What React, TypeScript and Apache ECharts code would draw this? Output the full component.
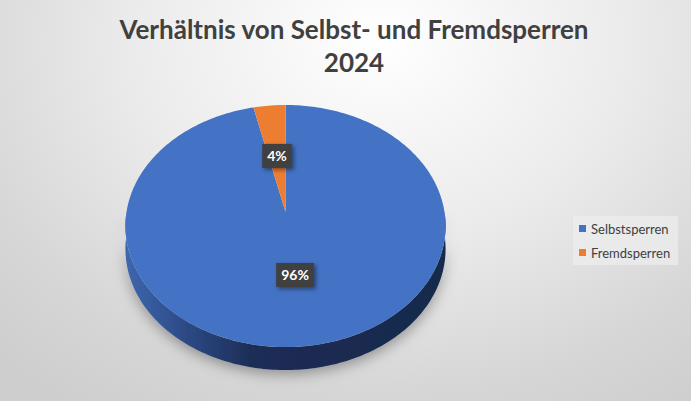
import React, { useEffect, useRef } from "react";
import * as echarts from "echarts";

const TITLE_LINES = ["Verhältnis von Selbst- und Fremdsperren", "2024"];
const categories = ["Selbstsperren", "Fremdsperren"];
const values = [96.4, 3.6];

const TOP_COLORS = ["#4472c4", "#ed7d31"];

// projection of the tilted disc (perspective)
const CX = 285.5;
const CY = 212;
const SX = 159;
const SY = 119.4;
const K = 0.1157;
const DEPTH = 23;

function proj(theta: number, r: number): [number, number] {
  const X = r * Math.sin(theta);
  const Z = r * Math.cos(theta);
  const d = 1 + K * Z;
  return [CX + (SX * X) / d, CY - (SY * Z) / d];
}

function arcPoints(a: number, b: number, r: number): [number, number][] {
  const pts: [number, number][] = [];
  const n = Math.max(2, Math.ceil(Math.abs(b - a) / (Math.PI / 180)));
  for (let i = 0; i <= n; i++) {
    const t = a + ((b - a) * i) / n;
    pts.push(proj(t, r));
  }
  return pts;
}

const total = values.reduce((s, v) => s + v, 0);

function makeRenderItem(si: number) {
  return (params: any, api: any) => {
    const v = api.value(0);
    let before = 0;
    for (let i = 0; i < si; i++) before += values[i];
    const start = (before / total) * Math.PI * 2;
    const end = start + (v / total) * Math.PI * 2;
    const children: any[] = [];

    // side wall (near half only)
    const a = Math.max(start, Math.PI / 2);
    const b = Math.min(end, (Math.PI * 3) / 2);
    if (b > a) {
      const rim = arcPoints(a, b, 1);
      const low = rim.map(([x, y]) => [x, y + DEPTH] as [number, number]).reverse();
      children.push({
        type: "polygon",
        z2: 1,
        shape: { points: rim.concat(low) },
        style: {
          fill: {
            type: "linear",
            global: true,
            x: CX - SX,
            y: 0,
            x2: CX + SX,
            y2: 0,
            colorStops:
              si === 0
                ? [
                    { offset: 0, color: "#3d66ad" },
                    { offset: 0.18, color: "#2d4b87" },
                    { offset: 0.4, color: "#1c2d55" },
                    { offset: 1, color: "#18294b" },
                  ]
                : [
                    { offset: 0, color: "#c0621f" },
                    { offset: 1, color: "#8a4515" },
                  ],
          },
          shadowBlur: 14,
          shadowColor: "rgba(0,0,0,0.35)",
          shadowOffsetY: 4,
        },
      });
    }

    // top face
    const top = [proj(0, 0) as [number, number]].concat(arcPoints(start, end, 1));
    children.push({
      type: "polygon",
      z2: 5,
      shape: { points: top },
      style: { fill: TOP_COLORS[si] },
    });

    // label
    const mid = (start + end) / 2;
    const [lx, ly] = proj(mid, 0.5);
    children.push({
      type: "text",
      z2: 50,
      x: lx,
      y: ly,
      style: {
        text: Math.round((v / total) * 100) + "%",
        fill: "#ffffff",
        font: "bold 14px Lato",
        align: "center",
        verticalAlign: "middle",
        backgroundColor: "#404040",
        padding: [5, 5, 5, 5],
        shadowBlur: 4,
        shadowColor: "rgba(0,0,0,0.45)",
        shadowOffsetX: 2,
        shadowOffsetY: 2,
      },
    });

    return { type: "group", children };
  };
}

export default function App() {
  const ref = useRef<HTMLDivElement>(null);
  useEffect(() => {
    document.body.style.margin = "0";
    if (!ref.current) return;
    const chart = echarts.init(ref.current, null, { renderer: "svg" });
    chart.setOption({
      animation: false,
      title: {
        text: TITLE_LINES.join("\n"),
        left: 349,
        top: 7,
        textAlign: "center",
        textStyle: {
          fontFamily: "Lato",
          fontWeight: "bold",
          fontSize: 26,
          lineHeight: 33,
          color: "#404040",
        },
      },
      legend: {
        orient: "vertical",
        left: 573,
        top: 216,
        icon: "rect",
        itemWidth: 7,
        itemHeight: 7,
        itemGap: 11,
        padding: [6, 8, 6, 6],
        backgroundColor: "rgba(238,238,238,0.7)",
        selectedMode: false,
        textStyle: { fontFamily: "Lato", fontSize: 13, color: "#404040" },
        data: categories.map((c, i) => ({ name: c, itemStyle: { color: TOP_COLORS[i] } })),
      },
      series: categories.map((c, i) => ({
        type: "custom",
        name: c,
        coordinateSystem: "none",
        itemStyle: { color: TOP_COLORS[i] },
        renderItem: makeRenderItem(i),
        data: [values[i]],
      })),
    });
    return () => chart.dispose();
  }, []);
  return (
    <div
      ref={ref}
      style={{
        width: 691,
        height: 401,
        background:
          "radial-gradient(ellipse 80% 110% at 55% 10%, #ffffff 0%, #ebebeb 45%, #d6d6d6 80%, #cecece 100%)",
      }}
    />
  );
}
